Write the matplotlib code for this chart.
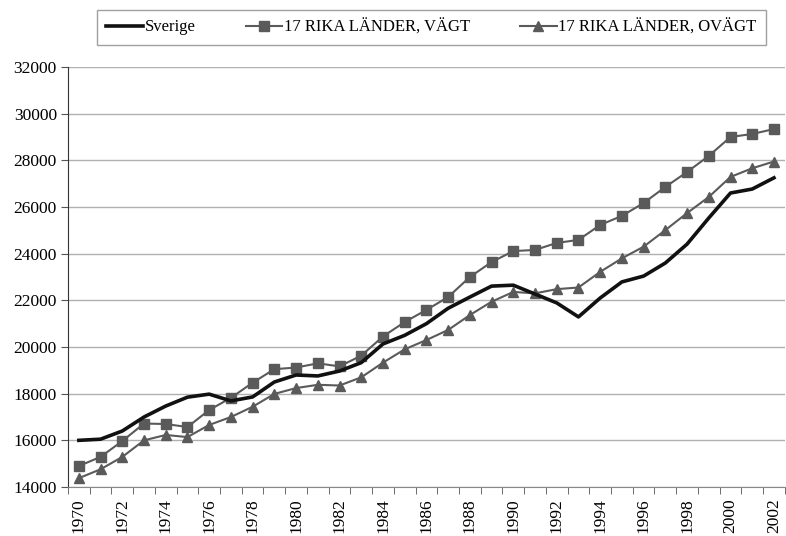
import matplotlib.pyplot as plt
import numpy as np

years = list(range(1970, 2003))

sverige = [16000, 16050, 16400, 17000, 17470, 17850, 17980, 17690, 17860, 18500,
           18800, 18760, 18970, 19330, 20130, 20500, 21000, 21660, 22140, 22610,
           22650, 22270, 21890, 21290, 22100, 22790, 23040, 23600, 24410, 25530,
           26600, 26770, 27250]

vagt = [14900, 15290, 15970, 16720, 16700, 16570, 17300, 17820, 18470, 19050,
        19120, 19300, 19170, 19630, 20450, 21070, 21590, 22140, 23000, 23640,
        24110, 24160, 24460, 24590, 25230, 25620, 26170, 26860, 27500, 28190,
        29000, 29130, 29340]

ovagt = [14380, 14760, 15290, 16000, 16230, 16140, 16660, 17000, 17440, 17990,
         18240, 18380, 18350, 18700, 19330, 19900, 20300, 20730, 21370, 21940,
         22360, 22300, 22480, 22550, 23220, 23800, 24300, 25010, 25740, 26430,
         27290, 27660, 27950]

plt.rcParams['font.family'] = ['Liberation Serif', 'DejaVu Serif']

fig = plt.figure(figsize=(7.86, 5.36), dpi=100)
ax = fig.add_axes([0.0865, 0.0914, 0.912, 0.7836])

x = np.arange(len(years))
ax.plot(x, sverige, color='#111111', lw=2.6, label='Sverige', zorder=4)
ax.plot(x, vagt, color='#5a5a5a', lw=1.5, marker='s', markersize=7,
        label='17 RIKA LÄNDER, VÄGT', zorder=3)
ax.plot(x, ovagt, color='#5a5a5a', lw=1.5, marker='^', markersize=7.5,
        label='17 RIKA LÄNDER, OVÄGT', zorder=3)

ax.set_ylim(14000, 32000)
ax.set_yticks(range(14000, 32001, 2000))
ax.set_xlim(-0.5, len(years) - 0.5)
ax.set_xticks(x[::2])
ax.set_xticklabels([str(y) for y in years[::2]], rotation=90)
ax.set_xticks(np.arange(-0.5, len(years)), minor=True)
ax.tick_params(axis='x', which='major', length=0, pad=8, labelsize=12.5)
ax.tick_params(axis='x', which='minor', length=5, color='#555555')
ax.tick_params(axis='y', length=5, labelsize=12.5, color='#555555', pad=3)

ax.grid(axis='y', color='#b0b0b0', lw=1)
ax.set_axisbelow(True)
for s in ['top', 'right']:
    ax.spines[s].set_visible(False)
ax.spines['left'].set_color('#333333')
ax.spines['bottom'].set_color('#888888')

leg = fig.legend(loc='center', bbox_to_anchor=(0.549, 0.949), ncol=3,
                 fontsize=12, frameon=True, fancybox=False, edgecolor='#888888',
                 handlelength=2.2, columnspacing=3.0, handletextpad=0.1,
                 borderpad=0.55)
leg.get_frame().set_linewidth(1)

fig.savefig('out.png', dpi=100)
